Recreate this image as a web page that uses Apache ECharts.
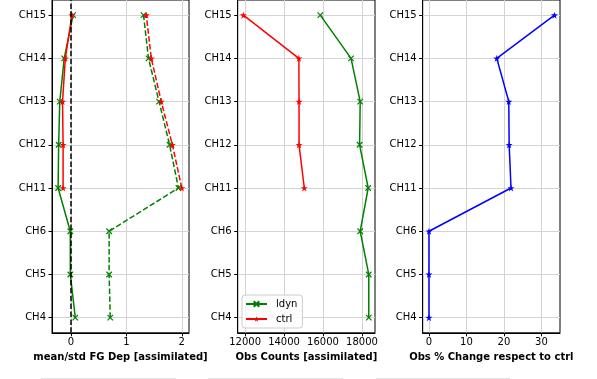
<!DOCTYPE html>
<html>
<head>
<meta charset="utf-8">
<script src="https://cdn.jsdelivr.net/npm/echarts@6/dist/echarts.min.js"></script>
<style>html,body{margin:0;padding:0;background:#fff;}#c{width:597px;height:379px;}</style>
</head>
<body>
<div id="c"></div>
<script>
// ---- data ----
var categories = ['CH4','CH5','CH6','CH11','CH12','CH13','CH14','CH15'];
var ldynMean = [0.08, -0.01, -0.01, -0.23, -0.22, -0.20, -0.12, 0.04];
var ctrlMean = [null, null, null, -0.14, -0.14, -0.15, -0.10, 0.02];
var ldynStd  = [0.71, 0.69, 0.69, 1.94, 1.78, 1.59, 1.40, 1.31];
var ctrlStd  = [null, null, null, 2.00, 1.83, 1.63, 1.45, 1.36];
var ldynCount = [18350, 18350, 17910, 18320, 17880, 17910, 17440, 15860];
var ctrlCount = [null, null, null, 15040, 14770, 14770, 14760, 11910];
var pctChange = [0, 0, 0, 21.9, 21.4, 21.3, 18.1, 33.5];
var xTicks1 = [0, 1, 2];
var xTicks2 = [12000, 14000, 16000, 18000];
var xTicks3 = [0, 10, 20, 30];
var xNames = ['mean/std FG Dep [assimilated]', 'Obs Counts [assimilated]', 'Obs % Change respect to ctrl'];

function pts(arr){
  var out = [];
  arr.forEach(function(v,i){ if(v!==null) out.push([v,i]); });
  return out;
}
var yIdx = categories.map(function(_,i){return i;});
var FONT = 'DejaVu Sans';
var X_SYM = 'path://M0,0L10,10M10,0L0,10';
var STAR = 'path://M50,0L61.2,34.5L97.6,34.5L68.2,55.9L79.4,90.5L50,69.1L20.6,90.5L31.8,55.9L2.4,34.5L38.8,34.5Z';
var GREEN = '#008000', RED = '#ff0000', BLUE = '#0000ff';
var DASH = [5.5, 2.4];

var grids = [
  {left: 52, top: -0.5, width: 137, height: 333.3},
  {left: 237.7, top: -0.5, width: 137.3, height: 333.3},
  {left: 422.7, top: -0.5, width: 137.3, height: 333.3}
].map(function(g){ g.show = true; g.borderColor = '#000'; g.borderWidth = 1; g.backgroundColor = 'transparent'; return g; });

var xRanges = [[-0.34, 2.13], [11620, 18670], [-1.67, 34.97]];
var xTickSets = [xTicks1, xTicks2, xTicks3];

var xAxes = xRanges.map(function(r, i){
  return {
    type: 'value', gridIndex: i, min: r[0], max: r[1],
    name: xNames[i], nameLocation: 'middle', nameGap: 20,
    nameTextStyle: {fontFamily: FONT, fontSize: 10, fontWeight: 'bold', color: '#000'},
    axisLine: {show: true, onZero: false, lineStyle: {color: '#000', width: 1}},
    axisTick: {show: true, length: 3.5, customValues: xTickSets[i], lineStyle: {color: '#000', width: 1}},
    axisLabel: {customValues: xTickSets[i], fontFamily: FONT, fontSize: 10, color: '#000', margin: 5,
      formatter: function(v){ return String(v); }},
    splitLine: {show: true, lineStyle: {color: '#d3d3d3', width: 1}}
  };
});
var yAxes = [0,1,2].map(function(i){
  return {
    type: 'value', gridIndex: i, min: -0.35, max: 7.35,
    axisLine: {show: true, onZero: false, lineStyle: {color: '#000', width: 1}},
    axisTick: {show: true, length: 3.5, customValues: yIdx, lineStyle: {color: '#000', width: 1}},
    axisLabel: {customValues: yIdx, fontFamily: FONT, fontSize: 10, color: '#000', margin: 6,
      formatter: function(v){ return categories[Math.round(v)]; }},
    splitLine: {show: true, lineStyle: {color: '#d3d3d3', width: 1}}
  };
});

function lineSeries(name, data, gi, color, sym, dashed){
  var isX = sym === X_SYM;
  return {
    name: name, type: 'line', xAxisIndex: gi, yAxisIndex: gi,
    data: pts(data), symbol: sym, symbolSize: isX ? 5.5 : 7,
    showAllSymbol: true, animation: false, connectNulls: false,
    lineStyle: {color: color, width: 1.5, type: dashed ? DASH : 'solid'},
    itemStyle: {color: isX ? 'rgba(0,0,0,0)' : color, borderColor: color, borderWidth: isX ? 1.2 : 0, opacity: 1}
  };
}

var series = [
  lineSeries('ldyn mean', ldynMean, 0, GREEN, X_SYM, false),
  lineSeries('ctrl mean', ctrlMean, 0, RED, STAR, false),
  lineSeries('ldyn std', ldynStd, 0, GREEN, X_SYM, true),
  lineSeries('ctrl std', ctrlStd, 0, RED, STAR, true),
  {
    name: 'zero', type: 'line', xAxisIndex: 0, yAxisIndex: 0, data: [], animation: false,
    markLine: {silent: true, symbol: 'none', animation: false, label: {show: false},
      lineStyle: {color: '#000', width: 1.5, type: DASH}, data: [{xAxis: 0}]}
  },
  lineSeries('ldyn', ldynCount, 1, GREEN, X_SYM, false),
  lineSeries('ctrl', ctrlCount, 1, RED, STAR, false),
  lineSeries('change', pctChange, 2, BLUE, STAR, false)
];

var chart = echarts.init(document.getElementById('c'), null, {renderer: 'canvas'});
chart.setOption({
  backgroundColor: '#fff',
  animation: false,
  textStyle: {fontFamily: FONT},
  grid: grids,
  xAxis: xAxes,
  yAxis: yAxes,
  legend: {
    data: ['ldyn', 'ctrl'], orient: 'vertical', left: 242, top: 295,
    itemWidth: 21, itemHeight: 7, itemGap: 5,
    padding: [4, 5, 4, 3],
    borderColor: '#cccccc', borderWidth: 1, borderRadius: 3,
    backgroundColor: 'rgba(255,255,255,0.8)',
    textStyle: {fontFamily: FONT, fontSize: 10, color: '#000', padding: [0, 0, 0, 4]}
  },
  series: series,
  graphic: [
    {type: 'line', shape: {x1: 41, y1: 378.5, x2: 176, y2: 378.5}, style: {stroke: '#e3e3e3', lineWidth: 1}, silent: true},
    {type: 'line', shape: {x1: 208, y1: 378.5, x2: 343, y2: 378.5}, style: {stroke: '#e3e3e3', lineWidth: 1}, silent: true},
    {type: 'line', shape: {x1: 376, y1: 378.5, x2: 510, y2: 378.5}, style: {stroke: '#e3e3e3', lineWidth: 1}, silent: true}
  ]
});
</script>
</body>
</html>
